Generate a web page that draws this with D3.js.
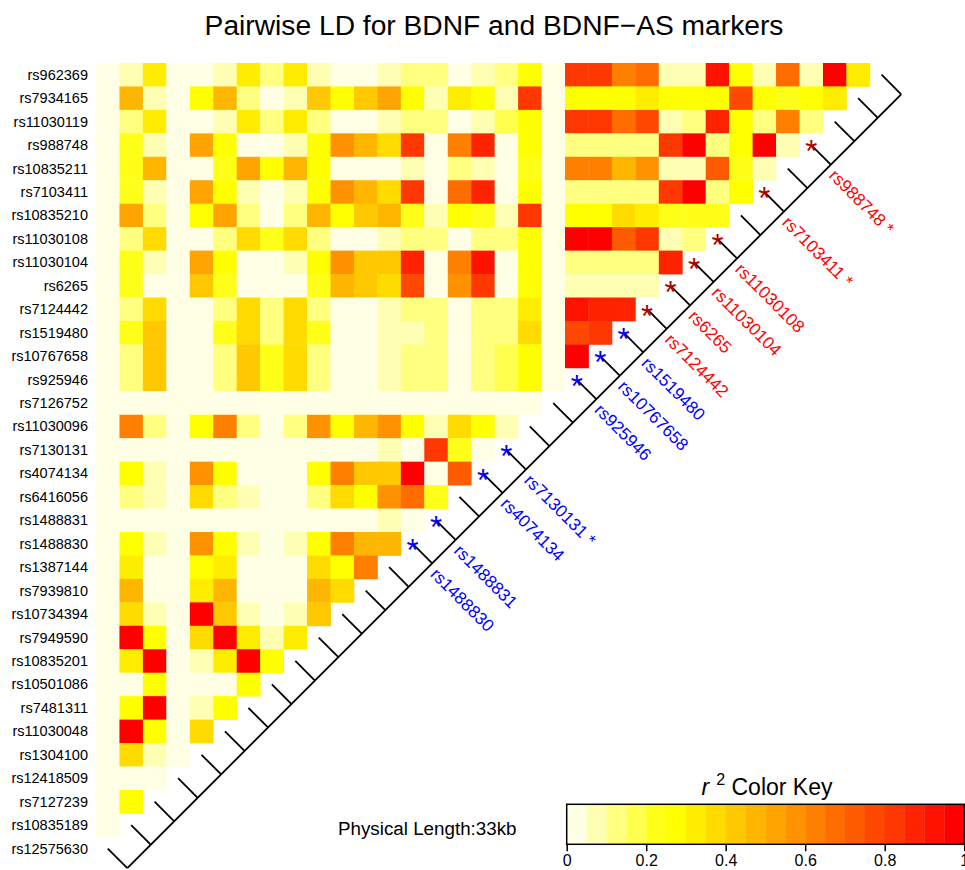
<!DOCTYPE html>
<html>
<head>
<meta charset="utf-8">
<script src="https://cdn.jsdelivr.net/npm/d3@7/dist/d3.min.js"></script>
<style>
  html, body { margin: 0; padding: 0; background: #fff; }
  svg { display: block; font-family: "Liberation Sans", Arial, Helvetica, sans-serif; }
</style>
</head>
<body>
<svg id="chart" width="965" height="870"></svg>
<script>
// ---------------- DATA ----------------
const title = "Pairwise LD for BDNF and BDNF\u2212AS markers";
const physicalLength = "Physical Length:33kb";

// SNPs in map order (top row first)
const snpNames = [
  "rs962369","rs7934165","rs11030119","rs988748","rs10835211","rs7103411",
  "rs10835210","rs11030108","rs11030104","rs6265","rs7124442","rs1519480",
  "rs10767658","rs925946","rs7126752","rs11030096","rs7130131","rs4074134",
  "rs6416056","rs1488831","rs1488830","rs1387144","rs7939810","rs10734394",
  "rs7949590","rs10835201","rs10501086","rs7481311","rs11030048","rs1304100",
  "rs12418509","rs7127239","rs10835189","rs12575630"
];

// Pairwise r^2: row i lists r^2 of SNP i with the SNPs after it,
// in display order (left to right): rs12575630, rs10835189, ... back to SNP i+1
const r2Rows = [
  [.02,.07,.32,.02,.02,.07,.32,.12,.32,.07,.02,.02,.07,.12,.12,.02,.07,.12,.27,.02,.82,.82,.62,.67,.07,.07,.92,.27,.07,.67,.07,.97,.32],
  [.02,.47,.07,.02,.27,.47,.12,.02,.07,.42,.27,.42,.52,.27,.07,.32,.27,.07,.82,.02,.27,.27,.27,.32,.27,.27,.27,.77,.27,.22,.27,.32],
  [.02,.12,.32,.02,.02,.07,.32,.12,.32,.12,.02,.02,.07,.12,.12,.02,.07,.17,.27,.02,.82,.82,.67,.77,.07,.12,.87,.27,.12,.62,.12],
  [.02,.22,.07,.02,.52,.27,.02,.02,.07,.27,.57,.47,.37,.82,.02,.62,.87,.02,.27,.02,.12,.12,.12,.12,.82,.97,.12,.27,.97,.07],
  [.02,.22,.47,.02,.02,.22,.52,.27,.47,.27,.02,.02,.02,.07,.02,.12,.07,.02,.22,.02,.62,.62,.47,.57,.07,.07,.72,.22,.07],
  [.02,.22,.07,.02,.52,.27,.07,.02,.07,.27,.57,.47,.37,.82,.02,.67,.87,.02,.27,.02,.12,.12,.12,.12,.82,.97,.12,.27],
  [.02,.52,.12,.02,.27,.52,.12,.02,.12,.47,.27,.42,.47,.22,.07,.27,.22,.07,.82,.02,.27,.27,.37,.32,.22,.22,.22],
  [.02,.12,.37,.02,.02,.12,.37,.22,.37,.12,.02,.02,.07,.12,.12,.02,.12,.12,.27,.02,.97,.97,.72,.82,.07,.12],
  [.02,.22,.07,.02,.52,.27,.02,.02,.07,.27,.57,.42,.42,.87,.02,.62,.92,.02,.27,.02,.12,.12,.12,.12,.87],
  [.02,.22,.02,.02,.42,.22,.02,.02,.02,.22,.47,.42,.37,.77,.02,.57,.82,.02,.27,.02,.07,.07,.07,.07],
  [.02,.12,.37,.02,.02,.12,.37,.12,.37,.12,.02,.02,.07,.12,.12,.02,.12,.12,.32,.02,.92,.87,.87],
  [.02,.22,.42,.02,.02,.22,.37,.12,.37,.22,.02,.02,.07,.07,.12,.02,.12,.12,.37,.02,.77,.82],
  [.02,.12,.42,.02,.02,.12,.42,.22,.37,.12,.02,.02,.07,.12,.12,.02,.12,.17,.27,.02,.97],
  [.02,.12,.42,.02,.02,.12,.42,.22,.37,.12,.02,.02,.07,.12,.12,.02,.12,.17,.27,.02],
  [.02,.02,.02,.02,.02,.02,.02,.02,.02,.02,.02,.02,.02,.02,.02,.02,.02,.02,.02],
  [.02,.62,.12,.02,.27,.62,.12,.02,.12,.57,.27,.47,.57,.27,.07,.37,.27,.07],
  [.02,.02,.02,.02,.02,.02,.02,.02,.02,.02,.02,.02,.07,.02,.82,.22,.02],
  [.02,.27,.07,.02,.57,.27,.02,.02,.02,.27,.62,.42,.42,.97,.02,.72],
  [.02,.12,.07,.02,.37,.12,.07,.02,.02,.12,.37,.27,.57,.67,.22],
  [.02,.02,.02,.02,.02,.02,.02,.02,.02,.02,.02,.02,.07,.02],
  [.02,.27,.07,.02,.57,.27,.07,.02,.07,.27,.62,.47,.47],
  [.02,.32,.02,.02,.27,.32,.02,.02,.02,.37,.27,.62],
  [.02,.47,.02,.02,.32,.47,.02,.02,.02,.47,.37],
  [.02,.37,.07,.02,.97,.42,.07,.02,.07,.42],
  [.02,.97,.27,.02,.37,.97,.32,.07,.32],
  [.02,.32,.97,.02,.07,.32,.97,.27],
  [.02,.02,.27,.02,.02,.02,.27],
  [.02,.27,.97,.02,.07,.27],
  [.02,.97,.27,.02,.37],
  [.02,.37,.07,.02],
  [.02,.02,.02],
  [.02,.27],
  [.02]
];

// highlighted SNPs along the map line
const redSNPs  = ["rs988748","rs7103411","rs11030108","rs11030104","rs6265","rs7124442"];
const blueSNPs = ["rs1519480","rs10767658","rs925946","rs7130131","rs4074134","rs1488831","rs1488830"];
const flaggedSNPs = ["rs988748","rs7103411","rs7130131"];   // shown with a trailing " *"

// colour key
const heatColors = ["#FFFFE6","#FFFFB3","#FFFF80","#FFFF4D","#FFFF1A","#FFFF00","#FFED00","#FFDB00",
  "#FFC800","#FFB600","#FFA400","#FF9200","#FF8000","#FF6D00","#FF5B00","#FF4900","#FF3700",
  "#FF2400","#FF1200","#FF0000"];
const keyTicks = [0, 0.2, 0.4, 0.6, 0.8, 1];
const keyTickLabels = ["0","0.2","0.4","0.6","0.8","1"];

// ---------------- DRAW ----------------
(function () {
const svg = d3.select("#chart");
const FONT = '"Liberation Sans", Arial, Helvetica, sans-serif';
const n = snpNames.length;
const cell = 23.45;
const left0 = 96, top0 = 63;

const colOrder = snpNames.slice().reverse();
const x = d3.scaleBand().domain(colOrder).range([left0, left0 + n * cell]).padding(0);
const y = d3.scaleBand().domain(snpNames).range([top0, top0 + n * cell]).padding(0);
const color = d3.scaleQuantize().domain([0, 1]).range(heatColors);

// title
svg.append("text").attr("x", 494).attr("y", 35).attr("text-anchor", "middle")
  .attr("font-size", 28.2).attr("fill", "#000").text(title);

// heatmap cells
const cells = [];
r2Rows.forEach((row, i) => {
  row.forEach((v, k) => {
    const j = n - 1 - k;        // partner SNP index
    if (j > i) cells.push({ a: snpNames[i], b: snpNames[j], v });
  });
});
svg.append("g").selectAll("rect").data(cells).join("rect")
  .attr("x", d => x(d.b)).attr("y", d => y(d.a))
  .attr("width", x.bandwidth() + 0.4).attr("height", y.bandwidth() + 0.4)
  .attr("fill", d => color(d.v));

// row labels
svg.append("g").selectAll("text").data(snpNames).join("text")
  .attr("x", 88).attr("y", d => y(d) + y.bandwidth() / 2)
  .attr("text-anchor", "end").attr("dominant-baseline", "central")
  .attr("font-size", 14.5).attr("fill", "#000").text(d => d);

// genetic map line
const diagX = name => x(name) + x.bandwidth() / 2;
const diagY = name => y(name) + y.bandwidth() / 2;
const off = 19.6;
const idx = d3.scaleLinear().domain([0, n - 1]);
const mapX = idx.copy().range([diagX(snpNames[0]) + off, diagX(snpNames[n - 1]) + off]);
const mapY = idx.copy().range([diagY(snpNames[0]) + off, diagY(snpNames[n - 1]) + off]);

const mapG = svg.append("g").attr("stroke", "#000").attr("stroke-width", 1.8).attr("fill", "none");
mapG.append("line")
  .attr("x1", mapX(0)).attr("y1", mapY(0)).attr("x2", mapX(n - 1)).attr("y2", mapY(n - 1));
mapG.selectAll("line.seg").data(snpNames).join("line").attr("class", "seg")
  .attr("x1", d => diagX(d)).attr("y1", d => diagY(d))
  .attr("x2", (d, i) => mapX(i)).attr("y2", (d, i) => mapY(i));

// highlighted symbols and names
const hl = snpNames.map((s, i) => ({ s, i }))
  .filter(d => redSNPs.includes(d.s) || blueSNPs.includes(d.s))
  .map(d => ({ ...d, red: redSNPs.includes(d.s) }));

const starSize = 31;
svg.append("g").selectAll("text").data(hl).join("text")
  .attr("x", d => diagX(d.s)).attr("y", d => diagY(d.s) + starSize * 0.56)
  .attr("text-anchor", "middle").attr("font-size", starSize)
  .attr("fill", d => d.red ? "#B00000" : "#0000FF").text("*");

svg.append("g").selectAll("text").data(hl).join("text")
  .attr("transform", d => `translate(${mapX(d.i)},${mapY(d.i)}) rotate(45)`)
  .attr("x", 6.5).attr("y", 0).attr("dy", "0.6em")
  .attr("font-size", 17.2).attr("fill", d => d.red ? "#FF0000" : "#0000FF")
  .text(d => flaggedSNPs.includes(d.s) ? d.s + " *" : d.s);

// physical length
svg.append("text").attr("x", 338).attr("y", 835).attr("font-size", 18.8)
  .attr("fill", "#000").text(physicalLength);

// colour key
const kx0 = 566.7, kx1 = 964.2, ky0 = 804.3, ky1 = 844.3;
const kx = d3.scaleLinear().domain([0, 1]).range([kx0, kx1]);
const bins = heatColors.map((c, i) => ({ c, lo: i / heatColors.length, hi: (i + 1) / heatColors.length }));
const keyG = svg.append("g");
keyG.selectAll("rect").data(bins).join("rect")
  .attr("x", d => kx(d.lo)).attr("y", ky0)
  .attr("width", d => kx(d.hi) - kx(d.lo) + 0.3).attr("height", ky1 - ky0)
  .attr("fill", d => d.c);
keyG.append("rect").attr("x", kx0).attr("y", ky0).attr("width", kx1 - kx0).attr("height", ky1 - ky0)
  .attr("fill", "none").attr("stroke", "#000").attr("stroke-width", 1.5);
const axis = d3.axisBottom(kx).tickValues(keyTicks).tickFormat((d, i) => keyTickLabels[i])
  .tickSize(7).tickPadding(3);
const axG = keyG.append("g").attr("transform", `translate(0,${ky1})`).call(axis);
axG.select(".domain").remove();
axG.selectAll("line").attr("stroke", "#000").attr("stroke-width", 1.5);
axG.selectAll("text").attr("font-size", 16).attr("font-family", FONT).attr("fill", "#000");

const kt = keyG.append("text").attr("x", 767).attr("y", 795).attr("text-anchor", "middle")
  .attr("font-size", 23).attr("fill", "#000");
kt.append("tspan").attr("font-style", "italic").text("r");
kt.append("tspan").attr("dx", 7).attr("dy", -10).attr("font-size", 16).text("2");
kt.append("tspan").attr("dy", 10).text(" Color Key");
})();
</script>
</body>
</html>
